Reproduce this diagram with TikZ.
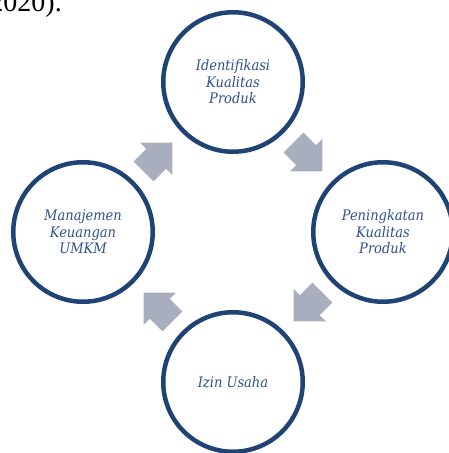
\documentclass[tikz,border=0pt]{standalone}
\usepackage{fontspec}
\setmainfont{Liberation Serif}
\newfontfamily\stagefont{DejaVu Serif Condensed}
\usetikzlibrary{calc}
\definecolor{ring}{RGB}{31,67,117}
\definecolor{label}{RGB}{47,82,140}
\definecolor{flow}{RGB}{168,174,190}
\begin{document}
\begin{tikzpicture}[x=1pt,y=1pt,
  stage/.style={circle, draw=ring, line width=4.5pt, minimum size=139.5pt,
    inner sep=0pt, fill=white, text=label, align=center,
    font=\stagefont\itshape\fontsize{14.5}{16.5}\selectfont},
  flowarrow/.style={fill=flow},
  citetext/.style={font=\fontsize{28}{32}\selectfont, inner sep=0pt, anchor=base east}]
\useasboundingbox (0,0) rectangle (449,453);
\coordinate (c) at (233,221);

% tail of the preceding sentence, cut by the frame
\begin{scope}
  \clip (0,0) rectangle (449,453);
  \node[citetext] (cite) at (62,441) {(2020).};
\end{scope}

% the four stages of the cycle
\node[stage] (ident)  at ($(c)+(0,150)$)  {Identifikasi\\Kualitas\\Produk};
\node[stage] (improve) at ($(c)+(150,0)$) {Peningkatan\\Kualitas\\Produk};
\node[stage] (permit) at ($(c)+(0,-150)$) {Izin Usaha};
\node[stage] (finance) at ($(c)+(-150,0)$) {Manajemen\\Keuangan\\UMKM};

% block arrows between the stages, running clockwise
\foreach \dx/\dy/\ang in {-75/75/45, 75/75/-45, 75/-75/-135, -75/-75/135}{
  \fill[flowarrow, shift={($(c)+(\dx,\dy)$)}, rotate=\ang]
    (-20.5,-14) -- (-2.5,-14) -- (-2.5,-23) -- (20.5,0) --
    (-2.5,23) -- (-2.5,14) -- (-20.5,14) -- cycle;
}
\end{tikzpicture}
\end{document}
